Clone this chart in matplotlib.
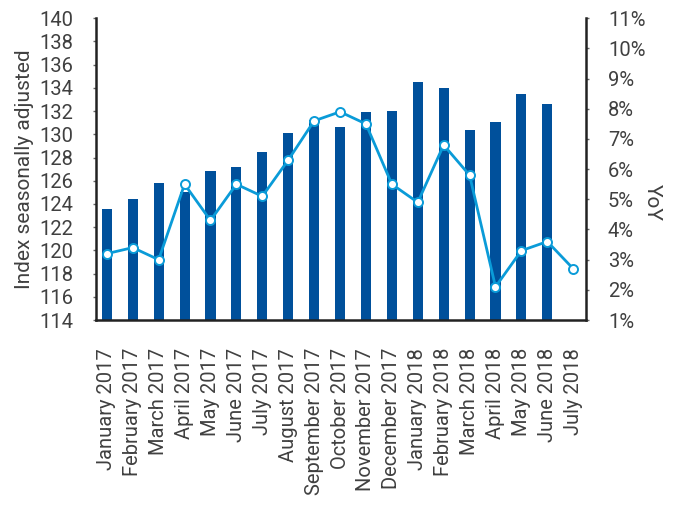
import numpy as np
import matplotlib
matplotlib.use('Agg')
import matplotlib.pyplot as plt
from matplotlib.ticker import FuncFormatter

plt.rcParams['font.family'] = ['Roboto', 'Liberation Sans', 'DejaVu Sans']
plt.rcParams['text.color'] = '#404040'

months = ['January 2017', 'February 2017', 'March 2017', 'April 2017', 'May 2017',
          'June 2017', 'July 2017', 'August 2017', 'September 2017', 'October 2017',
          'November 2017', 'December 2017', 'January 2018', 'February 2018',
          'March 2018', 'April 2018', 'May 2018', 'June 2018', 'July 2018']

# index (bars), no bar for July 2018
index_sa = [123.6, 124.4, 125.8, 125.0, 126.8, 127.2, 128.5, 130.1, 131.2, 130.6,
            131.9, 132.0, 134.5, 134.0, 130.4, 131.1, 133.5, 132.6]

# year over year change in %
yoy = [3.2, 3.4, 3.0, 5.5, 4.3, 5.5, 5.1, 6.3, 7.6, 7.9,
       7.5, 5.5, 4.9, 6.8, 5.8, 2.1, 3.3, 3.6, 2.7]

left_ticks = np.arange(114, 141, 2)
right_ticks = np.arange(1, 12, 1)

bar_color = '#00509b'
line_color = '#0a9bd8'
text_color = '#404040'
spine_color = '#222222'

fig = plt.figure(figsize=(6.81, 5.05), dpi=100)
ax = fig.add_axes([0.1405, 0.3663, 0.7195, 0.5975])
ax2 = ax.twinx()

x = np.arange(len(months))
ax.bar(x[:len(index_sa)], np.array(index_sa) - 114, bottom=114, width=0.39,
       color=bar_color, zorder=2)
ax.set_ylim(114, 140)
ax.set_xlim(-0.43, len(months) - 0.52)
ax.set_yticks(left_ticks)
ax.set_ylabel('Index seasonally adjusted', fontsize=15, color=text_color, labelpad=4)
ax.set_xticks(x)
ax.set_xticklabels(months, rotation=90, fontsize=14.5, color=text_color)

ax2.plot(x, yoy, '-o', color=line_color, linewidth=2, markersize=6.5,
         markerfacecolor='white', markeredgecolor=line_color, markeredgewidth=1.4,
         zorder=3)
ax2.set_ylim(1, 11)
ax2.set_yticks(right_ticks)
ax2.yaxis.set_major_formatter(FuncFormatter(lambda v, p: f'{v:.0f}%'))
ax2.set_ylabel('YoY', fontsize=15, color=text_color, rotation=270)
ax2.yaxis.set_label_coords(1.155, 0.39)

for a in (ax, ax2):
    a.spines['top'].set_visible(False)
    for s in ('left', 'right', 'bottom'):
        a.spines[s].set_color(spine_color)
        a.spines[s].set_linewidth(1.8)
    a.tick_params(axis='y', labelsize=14.5, labelcolor=text_color, color='#666666',
                  length=2, width=1, pad=14)
ax.tick_params(axis='x', length=0, pad=20)
ax2.spines['left'].set_visible(False)
ax2.spines['bottom'].set_visible(False)
ax.spines['right'].set_visible(False)

fig.savefig('out.png', dpi=100, facecolor='white')
